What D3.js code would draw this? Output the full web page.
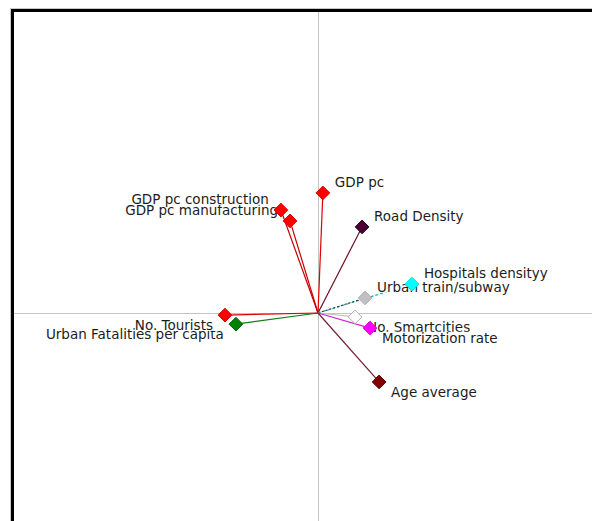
<!DOCTYPE html>
<html>
<head>
<meta charset="utf-8">
<script src="https://cdn.jsdelivr.net/npm/d3@7"></script>
<style>
  html, body { margin: 0; padding: 0; background: #ffffff; }
  svg { display: block; }
  text { font-family: "DejaVu Sans", Verdana, sans-serif; font-size: 13.5px; fill: #1c1c1c; }
</style>
</head>
<body>
<svg id="chart" width="592" height="521"></svg>
<script>
// Variable names (label order also sets paint order: later labels sit on top)
const variables = [
  "GDP pc",
  "GDP pc manufacturing",
  "GDP pc construction",
  "Road Density",
  "Hospitals densityy",
  "Urban train/subway",
  "No. Smartcities",
  "Motorization rate",
  "Age average",
  "Urban Fatalities per capita",
  "No. Tourists"
];
// Loadings on the first component (horizontal)
const loadX = [0.016, -0.092, -0.122, 0.145, 0.309, 0.155, 0.122, 0.171, 0.201, -0.270, -0.306];
// Loadings on the second component (vertical)
const loadY = [0.399, 0.306, 0.342, 0.286, 0.096, 0.050, -0.013, -0.050, -0.229, -0.037, -0.007];

// Marker and arrow styling per variable
const styles = {
  "GDP pc":                      { fill: "#ff0000", stroke: "#e00000", line: "#e00000", dash: null },
  "GDP pc manufacturing":        { fill: "#ff0000", stroke: "#e00000", line: "#c80000", dash: null },
  "GDP pc construction":         { fill: "#ff0000", stroke: "#e00000", line: "#c80000", dash: null },
  "Road Density":                { fill: "#4a0034", stroke: "#2a0020", line: "#6a1020", dash: null },
  "Hospitals densityy":          { fill: "#00ffff", stroke: "#00e0e0", line: "#20a8b0", dash: "3,2" },
  "Urban train/subway":          { fill: "#c0c0c0", stroke: "#b0b0b0", line: "#404040", dash: "2,2" },
  "No. Smartcities":             { fill: "#ffffff", stroke: "#b0b0b0", line: "#c0c0c0", dash: null },
  "Motorization rate":           { fill: "#ff00ff", stroke: "#e000e0", line: "#d020d0", dash: null },
  "Age average":                 { fill: "#800000", stroke: "#600000", line: "#702030", dash: null },
  "Urban Fatalities per capita": { fill: "#008000", stroke: "#006000", line: "#108010", dash: null },
  "No. Tourists":                { fill: "#ff0000", stroke: "#e00000", line: "#e00000", dash: null }
};

const data = variables.map((name, i) => ({ name, x: loadX[i], y: loadY[i] }));

const svg = d3.select("#chart");

// Plot frame (extends past the right and bottom edges of the view)
const frame = { left: 14, top: 12, right: 622, bottom: 614 };

const x = d3.scaleLinear().domain([-1, 1]).range([frame.left, frame.right]);
const y = d3.scaleLinear().domain([-1, 1]).range([frame.bottom, frame.top]);

svg.append("defs").append("clipPath").attr("id", "plotClip")
  .append("rect")
  .attr("x", frame.left).attr("y", frame.top)
  .attr("width", frame.right - frame.left).attr("height", frame.bottom - frame.top);

// Outer light edge and heavy black border
svg.append("rect")
  .attr("x", 10.5).attr("y", 8.5)
  .attr("width", 700).attr("height", 700)
  .attr("fill", "none").attr("stroke", "#c8c8c8").attr("stroke-width", 1);
svg.append("rect")
  .attr("x", 12.5).attr("y", 10.5)
  .attr("width", 700).attr("height", 700)
  .attr("fill", "#ffffff").attr("stroke", "#000000").attr("stroke-width", 3);

const plot = svg.append("g").attr("clip-path", "url(#plotClip)");

// Zero axes
plot.append("line")
  .attr("x1", x(0) + 0.5).attr("x2", x(0) + 0.5)
  .attr("y1", frame.top).attr("y2", frame.bottom)
  .attr("stroke", "#c4c4c4").attr("stroke-width", 1);
plot.append("line")
  .attr("x1", frame.left).attr("x2", frame.right)
  .attr("y1", y(0) + 0.5).attr("y2", y(0) + 0.5)
  .attr("stroke", "#c4c4c4").attr("stroke-width", 1);

// Loading vectors from the origin
plot.append("g").selectAll("line")
  .data(data)
  .join("line")
  .attr("x1", x(0)).attr("y1", y(0))
  .attr("x2", d => x(d.x)).attr("y2", d => y(d.y))
  .attr("stroke", d => styles[d.name].line)
  .attr("stroke-width", 1.2)
  .attr("stroke-dasharray", d => styles[d.name].dash);

// Labels with a white backing box, offset away from the marker
const labels = plot.append("g");
data.forEach(d => {
  const g = labels.append("g");
  const right = d.x >= 0;
  const tx = x(d.x) + (right ? 12 : -12);
  const ty = y(d.y) + (d.y >= 0 ? -11 : 10);
  const t = g.append("text")
    .attr("x", tx).attr("y", ty)
    .attr("dy", "0.35em")
    .attr("text-anchor", right ? "start" : "end")
    .text(d.name);
  const bb = t.node().getBBox();
  g.insert("rect", "text")
    .attr("x", bb.x).attr("y", bb.y + 2)
    .attr("width", bb.width).attr("height", bb.height - 4)
    .attr("fill", "#ffffff");
});

// Diamond markers at the vector tips
const diamond = d3.symbol().type(d3.symbolDiamond2).size(120);
plot.append("g").selectAll("path")
  .data(data)
  .join("path")
  .attr("transform", d => `translate(${x(d.x)},${y(d.y)})`)
  .attr("d", diamond)
  .attr("fill", d => styles[d.name].fill)
  .attr("stroke", d => styles[d.name].stroke)
  .attr("stroke-width", 1);
</script>
</body>
</html>
